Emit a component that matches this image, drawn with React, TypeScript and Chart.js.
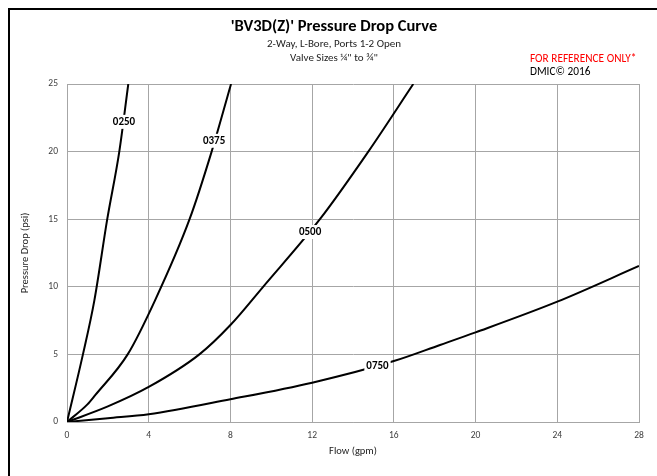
import React, { useEffect, useRef } from "react";
import { Chart, registerables } from "chart.js";

Chart.register(...registerables);

// ---------- data ----------
const seriesNames = ["0250", "0375", "0500", "0750"];

const flow0250 = [0, 0.78, 1.34, 1.97, 2.56, 3.0];
const drop0250 = [0, 5, 9, 15, 20, 25];

const flow0375 = [0, 1.0, 1.39, 2.97, 4.31, 6.0, 7.08, 8.03];
const drop0375 = [0, 1.3, 2.0, 5, 9, 15, 20, 25];

const flow0500 = [0, 2, 4, 6.48, 8, 9.6, 12.38, 14.75, 16.95];
const drop0500 = [0, 1.15, 2.59, 5, 7.17, 10, 15, 20, 25];

const flow0750 = [0, 2, 4, 8, 12, 16, 18.26, 20, 24, 28];
const drop0750 = [0, 0.28, 0.57, 1.68, 2.91, 4.51, 5.7, 6.63, 8.9, 11.54];

// where each curve's name sits (data units)
const labelFlow = [2.79, 7.2, 11.9, 15.2];
const labelDrop = [22.2, 20.8, 14.05, 4.15];

const titleText = "'BV3D(Z)' Pressure Drop Curve";
const subtitleLines = ["2-Way, L-Bore, Ports 1-2 Open", "Valve Sizes \u00bc\" to \u00be\""];
const noteRed = "FOR REFERENCE ONLY*";
const noteBlack = "DMIC\u00a9 2016";
const xTitle = "Flow (gpm)";
const yTitle = "Pressure Drop (psi)";

const FONT = "Carlito, Lato, 'Open Sans', sans-serif";

const flows = [flow0250, flow0375, flow0500, flow0750];
const drops = [drop0250, drop0375, drop0500, drop0750];

export default function App() {
  const ref = useRef<HTMLCanvasElement | null>(null);

  useEffect(() => {
    if (!ref.current) return;
    document.body.style.overflow = "hidden";

    const framePlugin = {
      id: "frameText",
      beforeDraw(chart: any) {
        const ctx = chart.ctx;
        ctx.save();
        ctx.fillStyle = "#ffffff";
        ctx.fillRect(0, 0, chart.width, chart.height);
        ctx.fillStyle = "#000000";
        ctx.fillRect(8, 8, chart.width - 8, 2);
        ctx.fillRect(8, 8, 2, chart.height - 8);
        ctx.restore();
      },
      afterDraw(chart: any) {
        const ctx = chart.ctx;
        ctx.save();
        ctx.textBaseline = "middle";
        ctx.textAlign = "center";
        ctx.fillStyle = "#000000";
        ctx.font = `bold 16.5px ${FONT}`;
        ctx.fillText(titleText, 334, 27);
        ctx.font = `11px ${FONT}`;
        ctx.fillStyle = "#222222";
        ctx.fillText(subtitleLines[0], 334, 44);
        ctx.fillText(subtitleLines[1], 334, 58);
        ctx.textAlign = "left";
        ctx.font = `11.3px ${FONT}`;
        ctx.fillStyle = "#ff0000";
        ctx.fillText(noteRed, 530, 59);
        ctx.fillStyle = "#000000";
        ctx.fillText(noteBlack, 530, 72.5);
        ctx.restore();
      },
    };

    const labelPlugin = {
      id: "curveLabels",
      afterDatasetsDraw(chart: any) {
        const ctx = chart.ctx;
        const xs = chart.scales.x;
        const ys = chart.scales.y;
        ctx.save();
        ctx.font = `bold 11px ${FONT}`;
        ctx.textAlign = "center";
        ctx.textBaseline = "middle";
        seriesNames.forEach((name, i) => {
          const px = xs.getPixelForValue(labelFlow[i]);
          const py = ys.getPixelForValue(labelDrop[i]);
          const w = ctx.measureText(name).width + 4;
          ctx.fillStyle = "#ffffff";
          ctx.fillRect(px - w / 2, py - 7, w, 14);
          ctx.fillStyle = "#000000";
          ctx.fillText(name, px, py);
        });
        ctx.restore();
      },
    };

    const chart = new Chart(ref.current, {
      type: "line",
      data: {
        datasets: seriesNames.map((name, i) => ({
          label: name,
          data: flows[i].map((f, k) => ({ x: f, y: drops[i][k] })),
          borderColor: "#000000",
          borderWidth: 2,
          pointRadius: 0,
          fill: false,
          cubicInterpolationMode: "monotone" as const,
        })),
      },
      options: {
        animation: false,
        responsive: false,
        devicePixelRatio: 1,
        layout: { padding: { top: 84, right: 18, left: 16, bottom: 0 } },
        plugins: {
          legend: { display: false },
          tooltip: { enabled: false },
        },
        scales: {
          x: {
            type: "linear",
            min: 0,
            max: 28,
            ticks: {
              stepSize: 4,
              padding: 8,
              color: "#404040",
              font: { family: FONT, size: 9.5 },
              maxRotation: 0,
            },
            grid: { color: "#a6a6a6", drawTicks: false, lineWidth: 1 },
            border: { color: "#a6a6a6" },
            title: {
              display: true,
              text: xTitle,
              color: "#222222",
              font: { family: FONT, size: 10.5 },
              padding: { top: 0, bottom: 18 },
            },
            afterFit(scale: any) {
              scale.height = 476 - 422;
            },
          },
          y: {
            type: "linear",
            min: 0,
            max: 25,
            ticks: {
              stepSize: 5,
              padding: 9,
              color: "#404040",
              font: { family: FONT, size: 9.5 },
            },
            grid: { color: "#a6a6a6", drawTicks: false, lineWidth: 1 },
            border: { color: "#a6a6a6" },
            title: {
              display: true,
              text: yTitle,
              color: "#222222",
              font: { family: FONT, size: 10.5 },
              padding: { top: 3, bottom: 0 },
            },
            afterFit(scale: any) {
              scale.width = 67 - 16;
            },
          },
        },
      },
      plugins: [framePlugin, labelPlugin],
    });

    return () => chart.destroy();
  }, []);

  return (
    <div style={{ position: "fixed", left: 0, top: 0, width: 657, height: 476 }}>
      <canvas ref={ref} width={657} height={476} style={{ display: "block" }} />
    </div>
  );
}
